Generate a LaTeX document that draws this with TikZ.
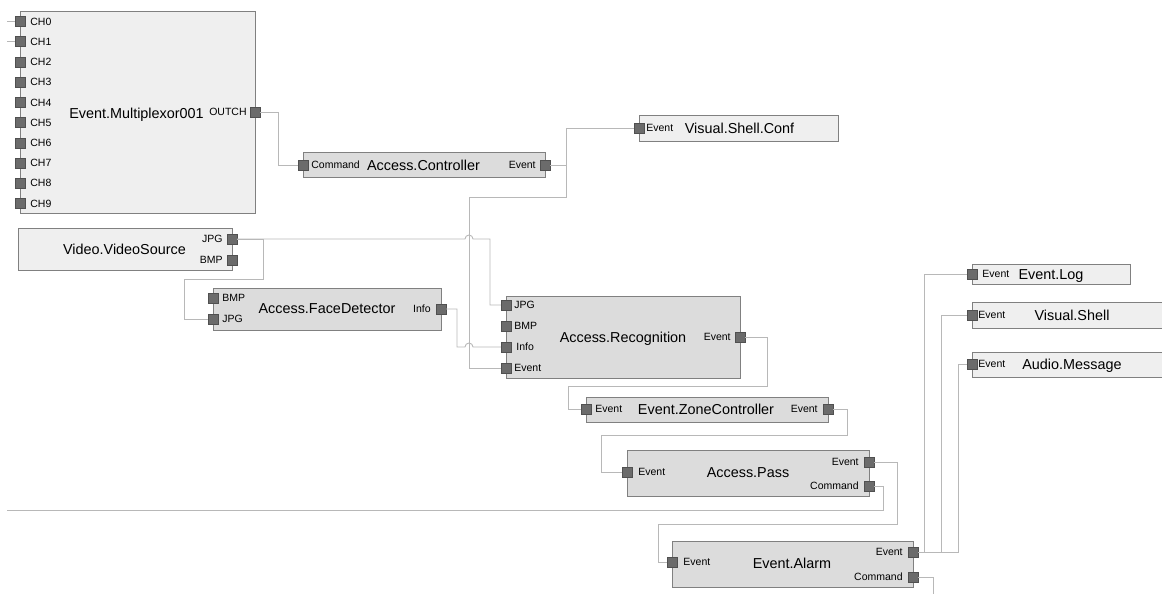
\documentclass[tikz,border=0pt]{standalone}
\usepackage{fontspec}
\setmainfont{Liberation Sans}
\usetikzlibrary{positioning}
\definecolor{blocklight}{HTML}{EFEFEF}
\definecolor{blockdark}{HTML}{DCDCDC}
\definecolor{blockline}{HTML}{808080}
\definecolor{portfill}{HTML}{6B6B6B}
\definecolor{wiregray}{HTML}{B8B8B8}

\begin{document}
\begin{tikzpicture}[x=1pt,y=-1pt,
    block/.style={rectangle, draw=blockline, line width=0.9pt, anchor=north west, inner sep=0},
    light/.style={block, fill=blocklight},
    dark/.style={block, fill=blockdark},
    port/.style={rectangle, draw=portfill!75!black, fill=portfill, minimum size=10pt, inner sep=0},
    plabel/.style={inner sep=0, text height=7.5pt, text depth=0pt, font=\fontsize{10.5}{12}\selectfont},
    title/.style={inner sep=0, text height=10.3pt, text depth=0pt, font=\fontsize{14.4}{17}\selectfont},
    wire/.style={draw=wiregray, line width=0.9pt}]
        \useasboundingbox (0,0) rectangle (1162,594);

        %% Multiplexor
        \node[light, minimum width=235pt, minimum height=202pt] (mux) at (20,11) {};
        \node[title] (muxt) at (136.5,113) {Event.Multiplexor001};
        \foreach \i in {0,...,9} {
            \node[port] (ch\i) at (20,{21.5+20.2*\i}) {};
            \node[plabel, right=5pt of ch\i] (ch\i l) {CH\i};
        }
        \node[port] (outch) at (255,112) {};
        \node[plabel, left=3pt of outch] (outchl) {OUTCH};
        \coordinate (in0) at (7,21.5);
        \coordinate (in1) at (7,41.7);
        \draw[wire] (in0) -- (ch0.west);
        \draw[wire] (in1) -- (ch1.west);

        %% Access.Controller
        \node[dark, minimum width=242pt, minimum height=25pt] (ctl) at (303,152) {};
        \node[title] (ctlt) at (423.5,165) {Access.Controller};
        \node[port] (ctlcmd) at (303,165) {};
        \node[plabel, right=3pt of ctlcmd] (ctlcmdl) {Command};
        \node[port] (ctlevt) at (545,165) {};
        \node[plabel, left=4pt of ctlevt] (ctlevtl) {Event};

        %% Visual.Shell.Conf
        \node[light, minimum width=199pt, minimum height=26pt] (conf) at (639,115) {};
        \node[title] (conft) at (739.5,128) {Visual.Shell.Conf};
        \node[port] (confevt) at (639,128) {};
        \node[plabel, right=2pt of confevt] (confevtl) {Event};

        %% Video source
        \node[light, minimum width=214pt, minimum height=42pt] (vid) at (18,228) {};
        \node[title] (vidt) at (124.5,249) {Video.VideoSource};
        \node[port] (vidjpg) at (232,239) {};
        \node[plabel, left=4pt of vidjpg] (vidjpgl) {JPG};
        \node[port] (vidbmp) at (232,260) {};
        \node[plabel, left=4pt of vidbmp] (vidbmpl) {BMP};

        %% Face detector
        \node[dark, minimum width=228pt, minimum height=42pt] (face) at (213,288) {};
        \node[title] (facet) at (327,308) {Access.FaceDetector};
        \node[port] (facebmp) at (213,298) {};
        \node[plabel, right=4pt of facebmp] (facebmpl) {BMP};
        \node[port] (facejpg) at (213,319) {};
        \node[plabel, right=4pt of facejpg] (facejpgl) {JPG};
        \node[port] (faceinfo) at (441,309) {};
        \node[plabel, left=5pt of faceinfo] (faceinfol) {Info};

        %% Recognition
        \node[dark, minimum width=234pt, minimum height=82pt] (rec) at (506,296) {};
        \node[title] (rect) at (623,337) {Access.Recognition};
        \node[port] (recjpg) at (506,305) {};
        \node[plabel, right=3pt of recjpg] (recjpgl) {JPG};
        \node[port] (recbmp) at (506,326) {};
        \node[plabel, right=3pt of recbmp] (recbmpl) {BMP};
        \node[port] (recinfo) at (506,347) {};
        \node[plabel, right=5pt of recinfo] (recinfol) {Info};
        \node[port] (recevt) at (506,368) {};
        \node[plabel, right=3pt of recevt] (recevtl) {Event};
        \node[port] (recout) at (740,337) {};
        \node[plabel, left=4pt of recout] (recoutl) {Event};

        %% Zone controller
        \node[dark, minimum width=242pt, minimum height=25pt] (zone) at (586,397) {};
        \node[title] (zonet) at (706,409) {Event.ZoneController};
        \node[port] (zonein) at (586,409) {};
        \node[plabel, right=4pt of zonein] (zoneinl) {Event};
        \node[port] (zoneout) at (828,409) {};
        \node[plabel, left=5pt of zoneout] (zoneoutl) {Event};

        %% Access.Pass
        \node[dark, minimum width=242pt, minimum height=46pt] (pass) at (627,450) {};
        \node[title] (passt) at (748,472) {Access.Pass};
        \node[port] (passin) at (627,472) {};
        \node[plabel, right=6pt of passin] (passinl) {Event};
        \node[port] (passevt) at (869,462) {};
        \node[plabel, left=5pt of passevt] (passevtl) {Event};
        \node[port] (passcmd) at (869,486) {};
        \node[plabel, left=5pt of passcmd] (passcmdl) {Command};

        %% Alarm
        \node[dark, minimum width=241pt, minimum height=46pt] (alarm) at (672,541) {};
        \node[title] (alarmt) at (792,563) {Event.Alarm};
        \node[port] (alarmin) at (672,562) {};
        \node[plabel, right=6pt of alarmin] (alarminl) {Event};
        \node[port] (alarmevt) at (913,552) {};
        \node[plabel, left=5pt of alarmevt] (alarmevtl) {Event};
        \node[port] (alarmcmd) at (913,577) {};
        \node[plabel, left=5pt of alarmcmd] (alarmcmdl) {Command};

        %% Outputs
        \node[light, minimum width=158pt, minimum height=20pt] (log) at (972,264) {};
        \node[title] (logt) at (1051,274) {Event.Log};
        \node[port] (login) at (972,274) {};
        \node[plabel, right=5pt of login] (loginl) {Event};
        \node[light, minimum width=192pt, minimum height=26pt] (shell) at (972,302) {};
        \node[title] (shellt) at (1072,315) {Visual.Shell};
        \node[port] (shellin) at (972,315) {};
        \node[plabel, right=1pt of shellin] (shellinl) {Event};
        \node[light, minimum width=192pt, minimum height=25pt] (audio) at (972,352) {};
        \node[title] (audiot) at (1072,364) {Audio.Message};
        \node[port] (audioin) at (972,364) {};
        \node[plabel, right=1pt of audioin] (audioinl) {Event};

        %% Wires
        \draw[wire] (outch.east) -- (278,112) |- (ctlcmd.west);
        \draw[wire] (ctlevt.east) -- (566,165) |- (confevt.west);
        \draw[wire] (ctlevt.east) -| (566,197) -- (469,197) |- (recevt.west);
        \draw[wire] (vidjpg.east) -- (465,239) arc[start angle=180, end angle=0, radius=4pt] -- (490,239) |- (recjpg.west);
        \draw[wire] (vidjpg.east) -| (263,279) -- (184,279) |- (facejpg.west);
        \draw[wire] (faceinfo.east) -| (457,347) -- (465,347) arc[start angle=180, end angle=0, radius=4pt] -- (recinfo.west);
        \draw[wire] (recout.east) -| (767,386) -- (568,386) |- (zonein.west);
        \draw[wire] (zoneout.east) -| (847,435) -- (601,435) |- (passin.west);
        \draw[wire] (passevt.east) -| (897,524) -- (658,524) |- (alarmin.west);
        \coordinate (cmdout) at (7,510);
        \draw[wire] (passcmd.east) -| (883,510) -- (cmdout);
        \coordinate (alarmend) at (933,594);
        \draw[wire] (alarmcmd.east) -| (alarmend);
        \draw[wire] (alarmevt.east) -- (924,552) |- (login.west);
        \draw[wire] (alarmevt.east) -- (941,552) |- (shellin.west);
        \draw[wire] (alarmevt.east) -- (958,552) |- (audioin.west);
\end{tikzpicture}
\end{document}
